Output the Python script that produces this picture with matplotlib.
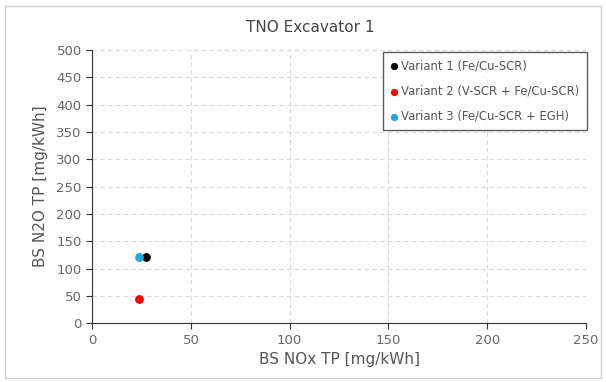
import matplotlib.pyplot as plt
from matplotlib.patches import Rectangle

labels = ["Variant 1 (Fe/Cu-SCR)", "Variant 2 (V-SCR + Fe/Cu-SCR)", "Variant 3 (Fe/Cu-SCR + EGH)"]
nox = [27.5, 23.5, 23.5]
n2o = [122, 44, 121]
colors = ["black", "red", "#1fa8e8"]

fig = plt.figure(figsize=(6.06, 3.82), dpi=100)
fig.patches.append(Rectangle((0.008, 0.01), 0.984, 0.975, transform=fig.transFigure,
                             fill=False, edgecolor="#d0d0d0", linewidth=1))
ax = fig.add_axes([0.152, 0.154, 0.815, 0.715])

for x, y, c, lab in zip(nox, n2o, colors, labels):
    ax.scatter(x, y, color=c, s=28, label=lab, zorder=3)

ax.set_xlim(0, 250)
ax.set_ylim(0, 500)
ax.set_xticks(range(0, 251, 50))
ax.set_yticks(range(0, 501, 50))
ax.grid(True, linestyle=(0, (4, 3)), color="#d9d9d9", linewidth=0.8)
ax.set_axisbelow(True)
for s in ["top", "right"]:
    ax.spines[s].set_visible(False)
for s in ["left", "bottom"]:
    ax.spines[s].set_color("#333333")
ax.tick_params(labelsize=9.5, colors="#666666", length=4)
ax.tick_params(axis="both", color="#333333")

ax.set_xlabel("BS NOx TP [mg/kWh]", fontsize=11, color="#555555", labelpad=4)
ax.set_ylabel("BS N2O TP [mg/kWh]", fontsize=11, color="#555555", labelpad=6)
fig.text(0.512, 0.928, "TNO Excavator 1", ha="center", va="center", fontsize=11, color="#444444")

leg = ax.legend(loc="upper right", bbox_to_anchor=(1.006, 1.0), fontsize=8.4, frameon=True,
                fancybox=False, edgecolor="#333333", handletextpad=0.2, borderpad=0.6,
                labelspacing=1.05, markerscale=0.8, handlelength=0.8, borderaxespad=0.2)
for t in leg.get_texts():
    t.set_color("#555555")

fig.savefig("out.png", dpi=100)
